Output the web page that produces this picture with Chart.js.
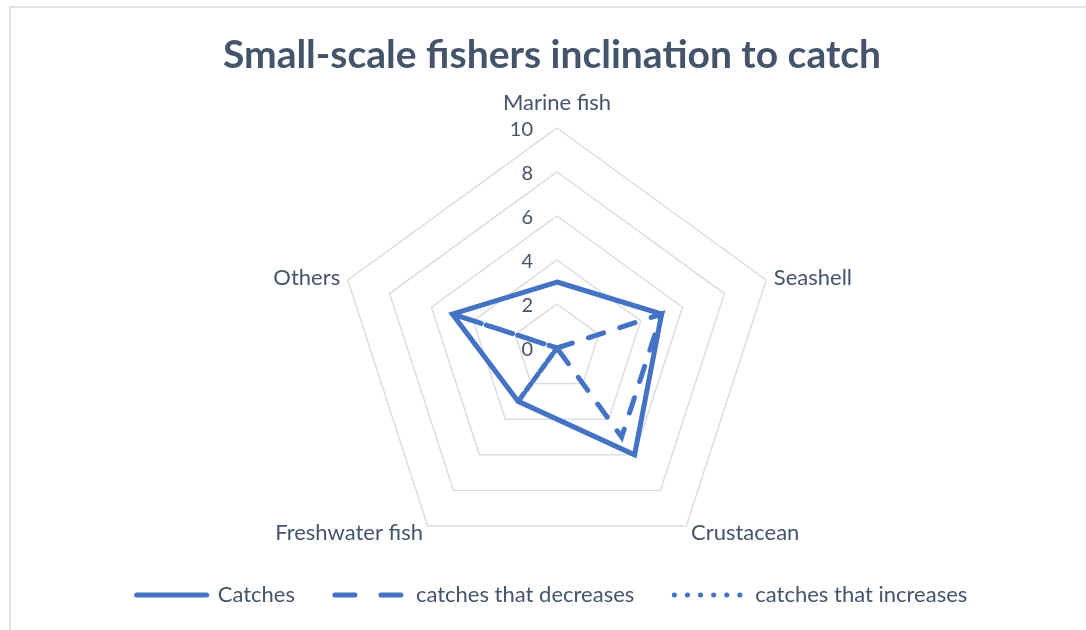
<!DOCTYPE html>
<html>
<head>
<meta charset="utf-8">
<script src="https://cdn.jsdelivr.net/npm/chart.js@4.4.1/dist/chart.umd.min.js"></script>
<style>
  html, body { margin: 0; padding: 0; background: #fff; }
  #wrap { position: relative; width: 1086px; height: 630px; overflow: hidden; }
  #frame {
    position: absolute; left: 9px; top: 6px; right: -20px; bottom: -20px;
    border-top: 2px solid #dfe3e8; border-left: 2px solid #dfe3e8;
  }
  #chart { position: absolute; left: 0; top: 0; }
</style>
</head>
<body>
<div id="wrap">
  <div id="frame"></div>
  <canvas id="chart" width="1086" height="630"></canvas>
</div>
<script>
(function () {
  'use strict';

  // values
  var categories = ['Marine fish', 'Seashell', 'Crustacean', 'Freshwater fish', 'Others'];
  var catches = [3, 5, 6, 3, 5];
  var catchesDecrease = [0, 5, 5, 0, 5];
  var catchesIncrease = [0, 0, 0, 3, 0];
  var tickMin = 0, tickMax = 10, tickStep = 2;

  var blue = '#4472c4';
  var textCol = '#44546a';
  var gridCol = '#d9dde3';
  var fontFamily = 'Lato, "Open Sans", sans-serif';

  // Excel-like labels: point labels around the web, tick labels to the left of the axis
  var radarLabels = {
    id: 'radarLabels',
    beforeDatasetsDraw: function (chart) {
      var scale = chart.scales.r;
      var ctx = chart.ctx;
      ctx.save();
      ctx.fillStyle = textCol;

      // tick labels
      ctx.font = '20px ' + fontFamily;
      ctx.textAlign = 'right';
      ctx.textBaseline = 'middle';
      scale.ticks.forEach(function (t) {
        var d = scale.getDistanceFromCenterForValue(t.value);
        ctx.fillText(String(t.value), scale.xCenter - 24, scale.yCenter - d + 2);
      });

      // category labels
      ctx.font = '22px ' + fontFamily;
      categories.forEach(function (name, i) {
        var p = scale.getPointPosition(i, scale.drawingArea + 8);
        var dx = p.x - scale.xCenter;
        var y = p.y;
        if (Math.abs(dx) < 2) {
          ctx.textAlign = 'center';
          y -= 17;
        } else {
          ctx.textAlign = dx > 0 ? 'left' : 'right';
        }
        ctx.textBaseline = 'middle';
        ctx.fillText(name, p.x, y);
      });
      ctx.restore();
    }
  };

  var ctx = document.getElementById('chart').getContext('2d');
  new Chart(ctx, {
    type: 'radar',
    data: {
      labels: categories,
      datasets: [{
        label: 'Catches',
        data: catches,
        borderColor: blue,
        borderWidth: 5,
        borderDash: [],
        legendDash: [],
        fill: false,
        clip: false
      }, {
        label: 'catches that decreases',
        data: catchesDecrease,
        borderColor: blue,
        borderWidth: 5,
        borderDash: [16, 17],
        legendDash: [20, 26],
        borderCapStyle: 'round',
        fill: false,
        clip: false
      }, {
        label: 'catches that increases',
        data: catchesIncrease,
        borderColor: blue,
        borderWidth: 5,
        borderDash: [4, 8],
        legendDash: [0.1, 13],
        borderCapStyle: 'round',
        fill: false,
        clip: false
      }]
    },
    options: {
      responsive: false,
      animation: false,
      layout: { padding: { left: 18, right: 0, top: 0, bottom: 14 } },
      elements: {
        line: { tension: 0, borderJoinStyle: 'miter' },
        point: { radius: 0, hoverRadius: 0, pointStyle: 'line' }
      },
      scales: {
        r: {
          min: tickMin,
          max: tickMax,
          ticks: { stepSize: tickStep, display: false },
          angleLines: { display: false },
          grid: { color: gridCol, lineWidth: 1.5 },
          pointLabels: { display: false },
          afterFit: function (scale) {
            scale.xCenter = 557;
            scale.yCenter = 348;
            scale.drawingArea = 220;
          }
        }
      },
      plugins: {
        title: {
          display: true,
          text: 'Small-scale fishers inclination to catch',
          color: textCol,
          font: { family: fontFamily, size: 39, weight: 'bold' },
          padding: { top: 32, bottom: 10 }
        },
        legend: {
          position: 'bottom',
          labels: {
            color: textCol,
            font: { family: fontFamily, size: 22 },
            usePointStyle: true,
            pointStyleWidth: 70,
            boxHeight: 20,
            padding: 40,
            generateLabels: function (chart) {
              var items = Chart.defaults.plugins.legend.labels.generateLabels(chart);
              items.forEach(function (it) {
                var ds = chart.data.datasets[it.datasetIndex];
                it.pointStyle = 'line';
                it.lineDash = ds.legendDash;
                it.lineCap = 'round';
                it.lineWidth = ds.borderWidth;
                it.strokeStyle = ds.borderColor;
              });
              return items;
            }
          }
        },
        tooltip: { enabled: false }
      }
    },
    plugins: [radarLabels]
  });
})();
</script>
</body>
</html>
